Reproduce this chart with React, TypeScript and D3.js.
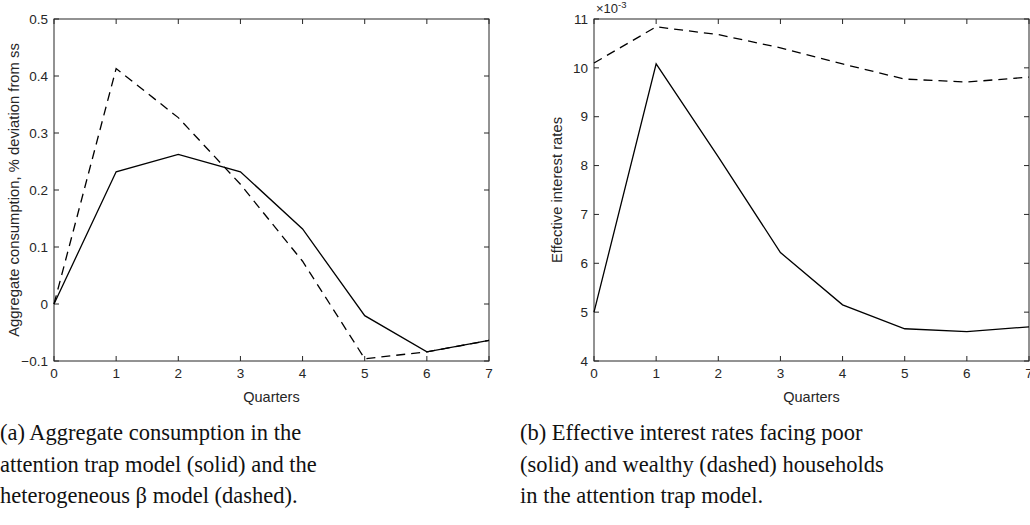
import React from "react"
import * as d3 from "d3"

const quarters = [0, 1, 2, 3, 4, 5, 6, 7]

// panel (a): aggregate consumption, % deviation from ss
const attentionTrap = [0, 0.232, 0.2625, 0.232, 0.1316, -0.0205, -0.084, -0.064]
const heteroBeta = [0, 0.413, 0.327, 0.21, 0.075, -0.096, -0.084, -0.064]
const leftTicks = [-0.1, 0, 0.1, 0.2, 0.3, 0.4, 0.5]

// panel (b): effective interest rates (x10^-3)
const poorRates = [5.0, 10.08, 8.18, 6.22, 5.15, 4.66, 4.6, 4.7]
const wealthyRates = [10.1, 10.84, 10.68, 10.41, 10.08, 9.77, 9.71, 9.81]
const rightTicks = [4, 5, 6, 7, 8, 9, 10, 11]

const captionA = [
  "(a) Aggregate consumption in the",
  "attention trap model (solid) and the",
  "heterogeneous β model (dashed).",
]
const captionB = [
  "(b) Effective interest rates facing poor",
  "(solid) and wealthy (dashed) households",
  "in the attention trap model.",
]

const axisColor = "#262626"
const sans = "Liberation Sans, Arial, sans-serif"

type PanelProps = {
  left: number
  right: number
  top: number
  bottom: number
  domain: [number, number]
  ticks: number[]
  tickFmt: (v: number) => string
  solid: number[]
  dashed: number[]
  yLabel: string
  yLabelX: number
  exponent?: boolean
}

const Panel = (p: PanelProps) => {
  const x = d3.scaleLinear().domain([0, 7]).range([p.left, p.right])
  const y = d3.scaleLinear().domain(p.domain).range([p.bottom, p.top])
  const line = d3
    .line<number>()
    .x((_, i) => x(quarters[i]))
    .y((d) => y(d))
  const tl = 5
  return (
    <g>
      {quarters.map((q) => (
        <g key={"x" + q}>
          <line x1={x(q)} x2={x(q)} y1={p.bottom} y2={p.bottom - tl} stroke={axisColor} />
          <line x1={x(q)} x2={x(q)} y1={p.top} y2={p.top + tl} stroke={axisColor} />
          <text
            x={x(q)}
            y={p.bottom + 17}
            textAnchor="middle"
            fontSize={13.5}
            fontFamily={sans}
            fill={axisColor}
          >
            {q}
          </text>
        </g>
      ))}
      {p.ticks.map((t) => (
        <g key={"y" + t}>
          <line x1={p.left} x2={p.left + tl} y1={y(t)} y2={y(t)} stroke={axisColor} />
          <line x1={p.right} x2={p.right - tl} y1={y(t)} y2={y(t)} stroke={axisColor} />
          <text
            x={p.left - 6}
            y={y(t)}
            dy="0.35em"
            textAnchor="end"
            fontSize={13.5}
            fontFamily={sans}
            fill={axisColor}
          >
            {p.tickFmt(t)}
          </text>
        </g>
      ))}
      <rect
        x={p.left}
        y={p.top}
        width={p.right - p.left}
        height={p.bottom - p.top}
        fill="none"
        stroke={axisColor}
        strokeWidth={1}
      />
      <path d={line(p.solid) ?? ""} fill="none" stroke="#000" strokeWidth={1.3} />
      <path
        d={line(p.dashed) ?? ""}
        fill="none"
        stroke="#000"
        strokeWidth={1.3}
        strokeDasharray="9,6"
      />
      <text
        x={(p.left + p.right) / 2}
        y={p.bottom + 41}
        textAnchor="middle"
        fontSize={14.5}
        fontFamily={sans}
        fill={axisColor}
      >
        Quarters
      </text>
      <text
        transform={`translate(${p.yLabelX}, ${(p.top + p.bottom) / 2}) rotate(-90)`}
        textAnchor="middle"
        fontSize={14.8}
        fontFamily={sans}
        fill={axisColor}
      >
        {p.yLabel}
      </text>
      {p.exponent && (
        <text x={p.left + 2} y={p.top - 6} fontSize={13} fontFamily={sans} fill={axisColor}>
          ×10
          <tspan dy={-5} fontSize={9.5}>
            -3
          </tspan>
        </text>
      )}
    </g>
  )
}

const Caption = ({ x, lines }: { x: number; lines: string[] }) => (
  <g>
    {lines.map((l, i) => (
      <text
        key={i}
        x={x}
        y={440 + i * 31.5}
        fontSize={22.5}
        fontFamily="Liberation Serif, Times New Roman, serif"
        fill="#111"
      >
        {l}
      </text>
    ))}
  </g>
)

const App = () => {
  return (
    <svg
      width={1030}
      height={525}
      style={{ position: "absolute", left: 0, top: 0, background: "#fff" }}
    >
      <rect width={1030} height={525} fill="#fff" />
      <Panel
        left={54}
        right={489}
        top={19}
        bottom={361}
        domain={[-0.1, 0.5]}
        ticks={leftTicks}
        tickFmt={(v) => (Math.abs(v) < 1e-9 ? "0" : d3.format(".1f")(v))}
        solid={attentionTrap}
        dashed={heteroBeta}
        yLabel="Aggregate consumption, % deviation from ss"
        yLabelX={19}
      />
      <Panel
        left={594}
        right={1029}
        top={19}
        bottom={361}
        domain={[4, 11]}
        ticks={rightTicks}
        tickFmt={(v) => String(v)}
        solid={poorRates}
        dashed={wealthyRates}
        yLabel="Effective interest rates"
        yLabelX={562}
        exponent
      />
      <Caption x={0} lines={captionA} />
      <Caption x={520} lines={captionB} />
    </svg>
  )
}

export default App
